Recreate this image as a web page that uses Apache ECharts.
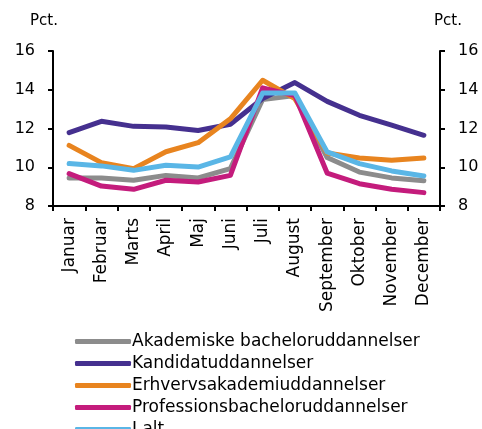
<!DOCTYPE html>
<html>
<head>
<meta charset="utf-8">
<script src="https://cdn.jsdelivr.net/npm/echarts@6/dist/echarts.min.js"></script>
<style>
  html, body { margin: 0; padding: 0; background: #fff; }
  #chart { width: 482px; height: 429px; }
</style>
</head>
<body>
<div id="chart"></div>
<script>
// months
const months = ["Januar", "Februar", "Marts", "April", "Maj", "Juni", "Juli", "August", "September", "Oktober", "November", "December"];

// andel pr. måned, pct.
const akademiske = [9.45, 9.45, 9.33, 9.58, 9.45, 9.93, 13.5, 13.7, 10.5, 9.75, 9.45, 9.3];
const kandidat = [11.79, 12.37, 12.11, 12.08, 11.9, 12.22, 13.55, 14.37, 13.4, 12.68, 12.17, 11.65];
const erhverv = [11.13, 10.24, 9.93, 10.8, 11.27, 12.5, 14.49, 13.54, 10.74, 10.48, 10.36, 10.48];
const profession = [9.67, 9.03, 8.86, 9.33, 9.24, 9.58, 14.1, 13.7, 9.7, 9.15, 8.86, 8.69];
const ialt = [10.19, 10.07, 9.84, 10.1, 10.01, 10.53, 13.83, 13.83, 10.79, 10.19, 9.81, 9.55];

const names = ["Akademiske bacheloruddannelser", "Kandidatuddannelser", "Erhvervsakademiuddannelser", "Professionsbacheloruddannelser", "I alt"];
const colors = ["#8c8c8c", "#45308f", "#e8841f", "#c41c7c", "#5ab6e6"];
const seriesData = [akademiske, kandidat, erhverv, profession, ialt];

const font = "'DejaVu Sans', sans-serif";
const chart = echarts.init(document.getElementById("chart"));

const yAxisBase = {
    type: "value",
    min: 8,
    max: 16,
    interval: 2,
    name: "Pct.",
    nameGap: 22,
    splitLine: { show: false },
    axisLine: { show: true, lineStyle: { color: "#000", width: 2 } },
    axisTick: { show: true, length: 5, lineStyle: { color: "#000", width: 2 } }
};

chart.setOption({
    animation: false,
    grid: {
        left: 53,
        right: 42,
        top: 51,
        bottom: 223
    },
    legend: {
        orient: "vertical",
        left: 70,
        top: 328,
        height: 200,
        itemWidth: 56,
        itemHeight: 5,
        itemGap: 5,
        icon: "roundRect",
        data: names,
        textStyle: { color: "#000", fontSize: 17, lineHeight: 16, fontFamily: font, padding: [0, 0, 0, -4] }
    },
    xAxis: {
        type: "category",
        data: months,
        boundaryGap: true,
        axisLine: { lineStyle: { color: "#000", width: 2 } },
        axisTick: { show: true, length: 5, lineStyle: { color: "#000", width: 2 } },
        axisLabel: {
            rotate: 90,
            interval: 0,
            color: "#000",
            fontSize: 17,
            fontFamily: font,
            margin: 12
        }
    },
    yAxis: [
        Object.assign({}, yAxisBase, {
            position: "left",
            axisLabel: { color: "#000", fontSize: 16, fontFamily: font, margin: 18 },
            nameTextStyle: { color: "#000", fontSize: 15, fontFamily: font, padding: [0, 0, 0, -18] }
        }),
        Object.assign({}, yAxisBase, {
            position: "right",
            axisLabel: { color: "#000", fontSize: 16, fontFamily: font, margin: 18 },
            nameTextStyle: { color: "#000", fontSize: 15, fontFamily: font, padding: [0, 0, 0, 16] }
        })
    ],
    series: names.map((n, i) => ({
        name: n,
        type: "line",
        data: seriesData[i],
        symbol: "none",
        color: colors[i],
        lineStyle: { color: colors[i], width: 5, cap: "round", join: "round" }
    }))
});
</script>
</body>
</html>
